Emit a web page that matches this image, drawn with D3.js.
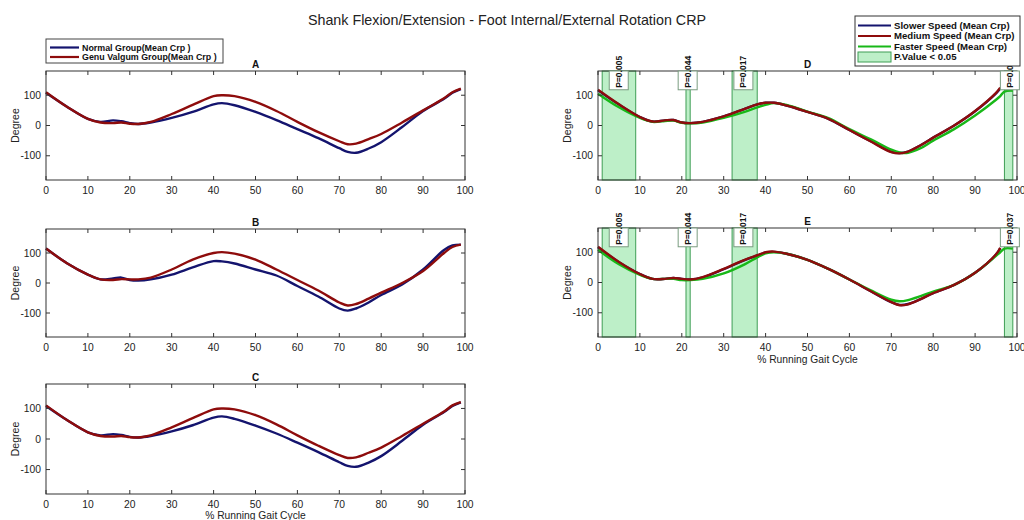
<!DOCTYPE html>
<html><head><meta charset="utf-8">
<script src="https://cdn.jsdelivr.net/npm/d3@7"></script>
<style>body{margin:0;background:#fff}svg{display:block}text{font-family:"Liberation Sans",Arial,sans-serif}</style>
</head><body>
<svg id="c" width="1024" height="520"></svg>
<script>
// ---------- data ----------
const chartTitle = "Shank Flexion/Extension - Foot Internal/External Rotation CRP";
const xTicks = [0,10,20,30,40,50,60,70,80,90,100];
const yTicks = [-100,0,100];
const groupLegend = ["Normal Group(Mean Crp )","Genu Valgum Group(Mean Crp )"];
const speedLegend = ["Slower Speed (Mean Crp)","Medium Speed (Mean Crp)","Faster Speed (Mean Crp)","P.Value < 0.05"];

const groupX = [0,5,10,13,16,18,20,22,25,30,35,40,42,45,50,55,60,65,70,72,74,77,80,85,90,95,97,99];
const A_normal = [108,62,22,12,17,14,8,5,10,25,45,70,74,67,45,18,-12,-42,-75,-87,-90,-76,-55,-5,48,88,108,120];
const A_valgum = [110,62,22,10,8,10,6,5,12,38,68,97,100,97,78,48,12,-22,-52,-62,-60,-45,-28,10,50,90,110,122];
const B_normal = [115,66,28,12,15,18,10,8,12,28,52,73,72,65,45,25,-10,-45,-85,-92,-85,-65,-40,-5,45,110,125,128];
const B_valgum = [115,66,28,12,10,13,12,12,18,45,78,100,103,98,78,45,10,-25,-65,-75,-70,-52,-32,0,40,100,120,128];
const C_normal = [108,62,22,12,16,13,7,5,10,25,45,70,74,66,44,18,-12,-43,-76,-88,-91,-77,-56,-6,47,88,108,120];
const C_valgum = [110,62,22,10,8,10,6,5,12,38,68,97,100,97,78,48,12,-22,-53,-62,-60,-45,-28,10,50,90,110,121];

const speedX = [0,5,10,13,16,18,20,22,25,30,35,38,40,42,45,50,55,60,65,70,72,74,77,80,85,90,95,96,97,99];
const D_slower = [116,69,28,13,17,18,10,8,12,30,55,70,75,75,66,45,22,-15,-51,-87,-91,-86,-65,-40,0,47,106,122,null,null];
const D_medium = [118,70,28,13,17,18,10,8,12,30,55,70,75,75,66,45,22,-15,-52,-88,-92,-86,-65,-40,0,48,108,125,null,null];
const D_faster = [105,60,25,12,15,16,9,7,10,25,45,60,68,74,68,46,24,-12,-45,-80,-89,-90,-75,-50,-12,33,85,97,112,115];
const E_slower = [116,67,28,12,12,15,12,10,17,44,74,89,99,101,95,75,45,10,-28,-65,-74,-71,-55,-35,-8,32,92,113,null,null];
const E_medium = [118,68,28,12,12,15,12,10,18,45,75,90,100,102,95,75,45,10,-28,-65,-75,-72,-55,-35,-8,32,93,115,null,null];
const E_faster = [108,60,25,12,12,12,8,8,12,30,60,83,96,100,95,75,45,10,-25,-57,-62,-58,-45,-30,-8,32,88,100,112,112];

const sigStart = [1,21,32,97];
const sigEnd = [9,22,38,99];
const pLabels = ["P=0.005","P=0.044","P=0.017","P=0.037"];
const pLabelX = [4.95,21.4,34.7,98.3];

// ---------- styles ----------
const NAVY="#14146e", RED="#8e0c0c", GREEN="#18b818", FILL="#bdefc8", EDGE="#3f9e55";
const svg = d3.select("#c");
const yDom = [-180,180];

svg.append("text").attr("x",507).attr("y",25).attr("text-anchor","middle")
  .attr("font-size",14.3).attr("fill","#222").text(chartTitle);

const panels = [
  {id:"A", x0:46, x1:465, y0:71, y1:180, xs:groupX, series:[[A_normal,NAVY],[A_valgum,RED]]},
  {id:"B", x0:46, x1:465, y0:229, y1:337, xs:groupX, series:[[B_normal,NAVY],[B_valgum,RED]]},
  {id:"C", x0:46, x1:465, y0:384, y1:494, xs:groupX, series:[[C_normal,NAVY],[C_valgum,RED]], xlabel:true},
  {id:"D", x0:598, x1:1017, y0:71, y1:180, xs:speedX, sig:true, series:[[D_slower,NAVY],[D_faster,GREEN],[D_medium,RED]]},
  {id:"E", x0:598, x1:1017, y0:228, y1:337, xs:speedX, sig:true, series:[[E_slower,NAVY],[E_faster,GREEN],[E_medium,RED]], xlabel:true}
];

panels.forEach(p=>{
  const x = d3.scaleLinear().domain([0,100]).range([p.x0,p.x1]);
  const y = d3.scaleLinear().domain(yDom).range([p.y1,p.y0]);
  const g = svg.append("g");
  if(p.sig){
    sigStart.forEach((s,i)=>{
      g.append("rect").attr("x",x(s)).attr("y",p.y0).attr("width",x(sigEnd[i])-x(s)).attr("height",p.y1-p.y0)
        .attr("fill",FILL).attr("stroke",EDGE).attr("stroke-width",1);
    });
  }
  p.series.forEach(([vals,col])=>{
    const line = d3.line().defined(d=>d[1]!=null).x(d=>x(d[0])).y(d=>y(d[1])).curve(d3.curveCatmullRom.alpha(0.5));
    g.append("path").datum(p.xs.map((v,i)=>[v,vals[i]])).attr("d",line)
      .attr("fill","none").attr("stroke",col).attr("stroke-width",2.4).attr("stroke-linejoin","round");
  });
  g.append("rect").attr("x",p.x0).attr("y",p.y0).attr("width",p.x1-p.x0).attr("height",p.y1-p.y0)
    .attr("fill","none").attr("stroke","#333").attr("stroke-width",1);
  xTicks.forEach(t=>{
    g.append("line").attr("x1",x(t)).attr("x2",x(t)).attr("y1",p.y1).attr("y2",p.y1-4).attr("stroke","#333");
    g.append("line").attr("x1",x(t)).attr("x2",x(t)).attr("y1",p.y0).attr("y2",p.y0+4).attr("stroke","#333");
    g.append("text").attr("x",x(t)).attr("y",p.y1+13.5).attr("text-anchor","middle").attr("font-size",10.3).attr("fill","#222").text(t);
  });
  yTicks.forEach(t=>{
    g.append("line").attr("x1",p.x0).attr("x2",p.x0+4).attr("y1",y(t)).attr("y2",y(t)).attr("stroke","#333");
    g.append("line").attr("x1",p.x1).attr("x2",p.x1-4).attr("y1",y(t)).attr("y2",y(t)).attr("stroke","#333");
    g.append("text").attr("x",p.x0-5).attr("y",y(t)+3.5).attr("text-anchor","end").attr("font-size",10.3).attr("fill","#222").text(t);
  });
  if(p.sig){
    pLabels.forEach((lab,i)=>{
      const cx = x(pLabelX[i]);
      g.append("rect").attr("x",cx-9.5).attr("y",p.y0).attr("width",19).attr("height",y(118)-p.y0)
        .attr("fill","#fff").attr("stroke","#7a9c80").attr("stroke-width",1);
      g.append("text").attr("transform",`translate(${cx+3},${y(118)-2}) rotate(-90)`)
        .attr("font-size",8.5).attr("font-weight","bold").attr("fill","#111").text(lab);
    });
  }
  g.append("text").attr("x",(p.x0+p.x1)/2).attr("y",p.y0-3).attr("text-anchor","middle")
    .attr("font-size",10).attr("font-weight","bold").attr("fill","#111").text(p.id);
  g.append("text").attr("transform",`translate(${p.x0-27},${(p.y0+p.y1)/2}) rotate(-90)`)
    .attr("text-anchor","middle").attr("font-size",10.5).attr("fill","#222").text("Degree");
  if(p.xlabel){
    g.append("text").attr("x",(p.x0+p.x1)/2).attr("y",Math.min(p.y1+26,519)).attr("text-anchor","middle")
      .attr("font-size",10.3).attr("fill","#222").text("% Running Gait Cycle");
  }
});

// left legend
const lg = svg.append("g");
lg.append("rect").attr("x",46).attr("y",39).attr("width",177).attr("height",24).attr("fill","#fff").attr("stroke","#444");
groupLegend.forEach((t,i)=>{
  const yy = 47.5 + i*9.5;
  lg.append("line").attr("x1",50).attr("x2",79).attr("y1",yy).attr("y2",yy).attr("stroke",[NAVY,RED][i]).attr("stroke-width",2.2);
  lg.append("text").attr("x",82).attr("y",yy+3).attr("font-size",8.9).attr("font-weight","bold").attr("fill","#111").text(t);
});

// right legend
const rg = svg.append("g");
rg.append("rect").attr("x",855).attr("y",16).attr("width",165).attr("height",50).attr("fill","#fff").attr("stroke","#333");
speedLegend.forEach((t,i)=>{
  const yy = 25.5 + i*10.5;
  if(i<3){
    rg.append("line").attr("x1",858).attr("x2",891).attr("y1",yy).attr("y2",yy).attr("stroke",[NAVY,RED,GREEN][i]).attr("stroke-width",2);
  } else {
    rg.append("rect").attr("x",858).attr("y",yy-5).attr("width",33).attr("height",10).attr("fill",FILL).attr("stroke",EDGE);
  }
  rg.append("text").attr("x",894).attr("y",yy+3.3).attr("font-size",9.6).attr("font-weight","bold").attr("fill","#111").text(t);
});
</script>
</body></html>
